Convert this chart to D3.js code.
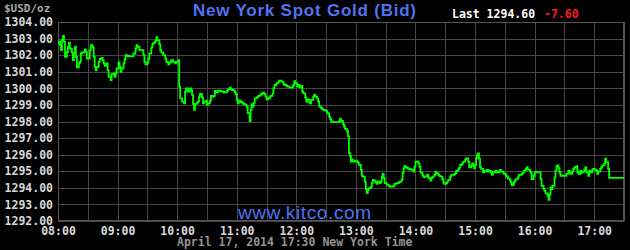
<!DOCTYPE html>
<html>
<head>
<meta charset="utf-8">
<script src="https://cdn.jsdelivr.net/npm/d3@7"></script>
<style>
  body { margin: 0; background: #000; }
  svg { display: block; }
  .mono { font-family: "DejaVu Sans Mono", monospace; font-weight: bold; }
</style>
</head>
<body>
<svg id="chart" width="630" height="250"></svg>
<script>
// spot gold quotes (time of day, bid in $/oz)
const times = [
  "08:00","08:01","08:02","08:03","08:04","08:05","08:06","08:07","08:09","08:10",
  "08:11","08:12","08:14","08:15","08:16","08:17","08:18","08:19","08:21","08:22",
  "08:23","08:24","08:26","08:27","08:28","08:29","08:31","08:32","08:33","08:35",
  "08:36","08:37","08:38","08:39","08:41","08:42","08:44","08:45","08:46","08:47",
  "08:49","08:50","08:51","08:53","08:54","08:56","08:57","08:58","08:59","09:01",
  "09:02","09:03","09:04","09:06","09:07","09:08","09:10","09:12","09:15","09:16",
  "09:18","09:19","09:20","09:22","09:24","09:26","09:27","09:28","09:30","09:31",
  "09:32","09:34","09:35","09:36","09:38","09:39","09:40","09:42","09:43","09:44",
  "09:46","09:48","09:49","09:51","09:52","09:54","09:55","09:56","09:58","09:59",
  "10:01","10:02","10:03","10:05","10:07","10:08","10:09","10:11","10:13","10:14",
  "10:15","10:16","10:17","10:18","10:20","10:21","10:22","10:23","10:25","10:26",
  "10:27","10:29","10:30","10:31","10:33","10:34","10:35","10:37","10:38","10:39",
  "10:41","10:42","10:44","10:45","10:47","10:48","10:50","10:51","10:53","10:54",
  "10:55","10:57","10:58","10:59","11:00","11:01","11:02","11:04","11:06","11:07",
  "11:09","11:10","11:11","11:13","11:14","11:15","11:16","11:17","11:18","11:20",
  "11:21","11:22","11:24","11:25","11:26","11:28","11:29","11:30","11:32","11:33",
  "11:34","11:36","11:37","11:38","11:40","11:42","11:43","11:45","11:47","11:48",
  "11:50","11:51","11:53","11:55","11:56","11:57","11:58","11:59","12:01","12:02",
  "12:03","12:05","12:06","12:07","12:09","12:10","12:11","12:13","12:14","12:15",
  "12:17","12:18","12:19","12:21","12:22","12:23","12:25","12:26","12:27","12:29",
  "12:30","12:31","12:33","12:34","12:35","12:37","12:38","12:39","12:41","12:43",
  "12:44","12:45","12:47","12:48","12:49","12:51","12:52","12:53","12:54","12:55",
  "12:56","12:57","12:59","13:01","13:02","13:03","13:05","13:06","13:07","13:09",
  "13:10","13:11","13:12","13:13","13:15","13:16","13:17","13:18","13:20","13:21",
  "13:22","13:24","13:25","13:26","13:27","13:28","13:29","13:31","13:33","13:34",
  "13:36","13:38","13:39","13:41","13:43","13:44","13:46","13:47","13:48","13:49",
  "13:50","13:52","13:53","13:54","13:56","13:58","13:59","14:00","14:01","14:03",
  "14:04","14:05","14:07","14:08","14:09","14:11","14:12","14:13","14:15","14:16",
  "14:17","14:19","14:20","14:21","14:23","14:24","14:25","14:27","14:28","14:29",
  "14:31","14:32","14:33","14:35","14:36","14:37","14:39","14:40","14:41","14:43",
  "14:44","14:45","14:47","14:48","14:50","14:51","14:52","14:53","14:54","14:56",
  "14:57","14:58","14:59","15:00","15:01","15:02","15:03","15:04","15:05","15:06",
  "15:08","15:09","15:10","15:12","15:13","15:14","15:16","15:17","15:18","15:20",
  "15:21","15:22","15:24","15:25","15:26","15:28","15:29","15:31","15:32","15:33",
  "15:35","15:36","15:37","15:39","15:40","15:41","15:43","15:44","15:45","15:47",
  "15:48","15:49","15:51","15:52","15:53","15:55","15:56","15:57","15:59","16:00",
  "16:01","16:04","16:05","16:06","16:07","16:09","16:10","16:11","16:13","16:14",
  "16:15","16:16","16:17","16:18","16:20","16:21","16:22","16:23","16:24","16:25",
  "16:26","16:28","16:30","16:32","16:34","16:35","16:36","16:38","16:39","16:40",
  "16:42","16:43","16:44","16:46","16:47","16:48","16:50","16:51","16:52","16:54",
  "16:55","16:56","16:58","16:59","17:00","17:02","17:03","17:04","17:06","17:07",
  "17:08","17:10","17:11","17:12","17:14","17:15","17:30"
];

const prices = [
  1302.70,1302.81,1302.60,1302.31,1302.91,1303.16,1302.80,1301.90,1302.20,1302.50,
  1302.75,1302.40,1302.15,1301.70,1302.10,1302.50,1301.90,1301.27,1301.50,1301.60,
  1302.10,1302.15,1302.20,1302.35,1302.20,1301.80,1301.80,1302.30,1302.60,1302.45,
  1301.90,1301.30,1301.10,1301.30,1301.60,1301.77,1301.83,1301.70,1301.50,1301.35,
  1301.50,1301.10,1300.70,1300.50,1300.86,1300.90,1300.70,1300.90,1301.20,1301.57,
  1301.30,1301.00,1301.20,1301.50,1301.75,1302.00,1301.95,1301.93,1301.93,1302.10,
  1302.40,1302.61,1302.50,1302.30,1302.30,1302.00,1301.60,1301.45,1301.55,1301.80,
  1302.10,1302.45,1302.67,1302.75,1302.87,1303.08,1302.90,1302.65,1302.30,1302.15,
  1302.00,1301.80,1301.60,1301.45,1301.55,1301.70,1301.70,1301.60,1301.50,1301.60,
  1301.70,1300.10,1299.40,1299.20,1299.10,1299.80,1300.00,1299.80,1300.00,1299.90,
  1299.60,1299.06,1298.70,1299.06,1299.14,1299.20,1299.50,1299.66,1299.46,1299.10,
  1299.20,1299.26,1299.00,1299.10,1299.26,1299.54,1299.50,1299.54,1299.84,1299.76,
  1299.84,1299.86,1299.84,1299.80,1299.74,1299.76,1299.84,1299.94,1300.04,1299.96,
  1299.90,1299.86,1299.76,1299.64,1299.30,1299.10,1299.26,1299.16,1299.10,1299.04,
  1299.00,1298.90,1298.50,1298.03,1298.70,1299.04,1298.90,1299.10,1299.40,1299.46,
  1299.50,1299.56,1299.62,1299.66,1299.74,1299.64,1299.50,1299.34,1299.40,1299.46,
  1299.54,1299.70,1300.00,1300.20,1300.30,1300.40,1300.46,1300.40,1300.26,1300.20,
  1300.16,1300.10,1300.04,1300.04,1300.10,1300.20,1300.44,1300.30,1300.10,1300.20,
  1300.06,1300.14,1299.80,1299.70,1299.44,1299.20,1299.34,1299.14,1299.10,1299.30,
  1299.50,1299.60,1299.50,1299.40,1299.20,1298.90,1298.80,1298.74,1298.70,1298.66,
  1298.66,1298.50,1298.30,1298.14,1298.00,1297.96,1297.96,1297.96,1297.96,1298.00,
  1298.16,1298.04,1297.84,1297.70,1297.56,1297.44,1297.10,1296.10,1295.92,1295.58,
  1295.72,1295.58,1295.64,1295.58,1295.52,1295.38,1295.08,1294.72,1294.68,1294.38,
  1293.92,1293.68,1293.88,1293.98,1294.04,1294.32,1294.48,1294.44,1294.32,1294.24,
  1294.38,1294.28,1294.38,1294.68,1294.84,1294.58,1294.28,1294.18,1294.12,1294.08,
  1294.08,1294.12,1294.24,1294.28,1294.32,1294.38,1294.48,1294.88,1295.18,1295.32,
  1295.24,1295.18,1295.14,1295.12,1295.08,1294.98,1295.28,1295.58,1295.58,1295.48,
  1295.28,1294.92,1294.78,1294.64,1294.68,1294.74,1294.78,1294.58,1294.44,1294.58,
  1294.68,1294.78,1294.98,1294.88,1294.78,1294.72,1294.68,1294.52,1294.32,1294.24,
  1294.28,1294.38,1294.48,1294.68,1294.78,1294.78,1294.82,1294.88,1295.02,1295.12,
  1295.22,1295.38,1295.48,1295.58,1295.72,1295.78,1295.78,1295.58,1295.24,1295.32,
  1295.48,1295.32,1295.18,1295.38,1295.78,1295.98,1296.08,1295.76,1295.24,1295.14,
  1294.94,1295.04,1294.98,1295.08,1294.98,1295.04,1294.94,1294.78,1294.98,1294.94,
  1295.04,1294.94,1294.98,1295.08,1294.98,1294.94,1294.84,1294.73,1294.67,1294.57,
  1294.47,1294.33,1294.16,1294.33,1294.43,1294.53,1294.63,1294.78,1294.78,1294.84,
  1294.90,1295.04,1295.14,1295.24,1295.10,1295.04,1294.90,1294.53,1294.73,1294.94,
  1294.94,1294.94,1294.94,1294.53,1294.12,1293.92,1293.82,1293.67,1293.51,1293.27,
  1293.61,1294.02,1293.92,1294.12,1294.63,1295.04,1295.31,1295.35,1295.18,1294.94,
  1294.73,1294.73,1294.73,1294.84,1295.04,1294.94,1294.84,1294.98,1295.14,1295.24,
  1295.31,1294.94,1294.84,1295.04,1294.90,1294.98,1295.10,1295.24,1294.94,1294.73,
  1295.04,1294.94,1295.10,1295.14,1295.10,1295.04,1294.84,1294.98,1295.14,1295.24,
  1295.35,1295.45,1295.76,1295.55,1295.14,1294.60,1294.60
];

const priceTicks = d3.range(1292, 1305);
const hourLabels = ["08:00","09:00","10:00","11:00","12:00","13:00","14:00","15:00","16:00","17:00"];
const gridTimes = ["08:00","08:30","09:00","09:30","10:00","10:30","11:00","11:30","12:00","12:30",
  "13:00","13:30","14:00","14:30","15:00","15:30","16:00","16:30","17:00","17:30"];

const titleText = "New York Spot Gold (Bid)";
const lastText = "Last 1294.60";
const changeText = "-7.60";
const unitText = "$USD/oz";
const siteText = "www.kitco.com";
const stampText = "April 17, 2014 17:30 New York Time";

if (times.length !== prices.length) throw new Error(`length mismatch ${times.length} vs ${prices.length}`);

const parseTime = d3.timeParse("%H:%M");
const data = times.map((t, i) => ({ t: parseTime(t), v: prices[i] }));

const plotLeft = 58, plotRight = 624, plotTop = 22, plotBottom = 221;
const svg = d3.select("#chart");

const x = d3.scaleTime()
  .domain([parseTime("08:00"), parseTime("17:30")])
  .range([plotLeft, plotRight]);
const y = d3.scaleLinear()
  .domain([1292, 1304])
  .range([plotBottom, plotTop]);

// vertical grid every half hour
svg.append("g")
  .attr("transform", `translate(0,${plotBottom})`)
  .call(d3.axisBottom(x).tickValues(gridTimes.map(parseTime)).tickSize(-(plotBottom - plotTop)).tickFormat(""))
  .call(g => g.select(".domain").remove())
  .call(g => g.selectAll("line").attr("stroke", "#464646").attr("shape-rendering", "crispEdges"));

// horizontal grid + price labels
svg.append("g")
  .attr("transform", `translate(${plotLeft},0)`)
  .call(d3.axisLeft(y).tickValues(priceTicks).tickSize(-(plotRight - plotLeft)).tickPadding(5).tickFormat(d3.format(".2f")))
  .call(g => g.select(".domain").remove())
  .call(g => g.selectAll("line").attr("stroke", "#464646").attr("shape-rendering", "crispEdges"))
  .call(g => g.selectAll("text")
    .attr("class", "mono")
    .attr("fill", "#d8d8d8")
    .style("font-size", "11.5px"));

// hour labels
svg.append("g")
  .attr("transform", `translate(0,${plotBottom})`)
  .call(d3.axisBottom(x).tickValues(hourLabels.map(parseTime)).tickSize(0).tickPadding(6).tickFormat(d3.timeFormat("%H:%M")))
  .call(g => g.select(".domain").remove())
  .call(g => g.selectAll("text")
    .attr("class", "mono")
    .attr("fill", "#d8d8d8")
    .style("font-size", "11.5px"));

// frame
svg.append("rect")
  .attr("x", plotLeft + 0.5).attr("y", plotTop + 0.5)
  .attr("width", plotRight - plotLeft - 1).attr("height", plotBottom - plotTop - 1)
  .attr("fill", "none")
  .attr("stroke", "#555");
svg.append("line")
  .attr("x1", plotRight).attr("x2", plotRight)
  .attr("y1", plotTop).attr("y2", plotBottom)
  .attr("stroke", "#555").attr("stroke-width", 2);

// watermark sits under the line
svg.append("text")
  .attr("x", 238).attr("y", 219)
  .attr("textLength", 133)
  .attr("fill", "#5073f0")
  .style("font-family", "Arial, 'Liberation Sans', sans-serif")
  .style("font-size", "19px")
  .text(siteText);

const line = d3.line()
  .x(d => x(d.t))
  .y(d => y(d.v))
  .curve(d3.curveStepAfter);

svg.append("path")
  .datum(data)
  .attr("fill", "none")
  .attr("stroke", "#00ff00")
  .attr("stroke-width", 1.8)
  .attr("stroke-linejoin", "miter")
  .attr("d", line);

// header texts
svg.append("text")
  .attr("x", 193).attr("y", 16)
  .attr("textLength", 223)
  .attr("fill", "#5073f0")
  .style("font-family", "Arial, 'Liberation Sans', sans-serif")
  .style("font-weight", "bold")
  .style("font-size", "17px")
  .text(titleText);

svg.append("text")
  .attr("class", "mono")
  .attr("x", 452).attr("y", 18)
  .attr("fill", "#ffffff")
  .style("font-size", "11.5px")
  .text(lastText);

svg.append("text")
  .attr("class", "mono")
  .attr("x", 544).attr("y", 18)
  .attr("fill", "#ff1a1a")
  .style("font-size", "11.5px")
  .text(changeText);

svg.append("text")
  .attr("class", "mono")
  .attr("x", 4).attr("y", 12)
  .attr("fill", "#a8a8a8")
  .style("font-size", "11px")
  .text(unitText);

svg.append("text")
  .attr("class", "mono")
  .attr("x", 177).attr("y", 246)
  .attr("fill", "#939393")
  .style("font-size", "11.5px")
  .text(stampText);
</script>
</body>
</html>
